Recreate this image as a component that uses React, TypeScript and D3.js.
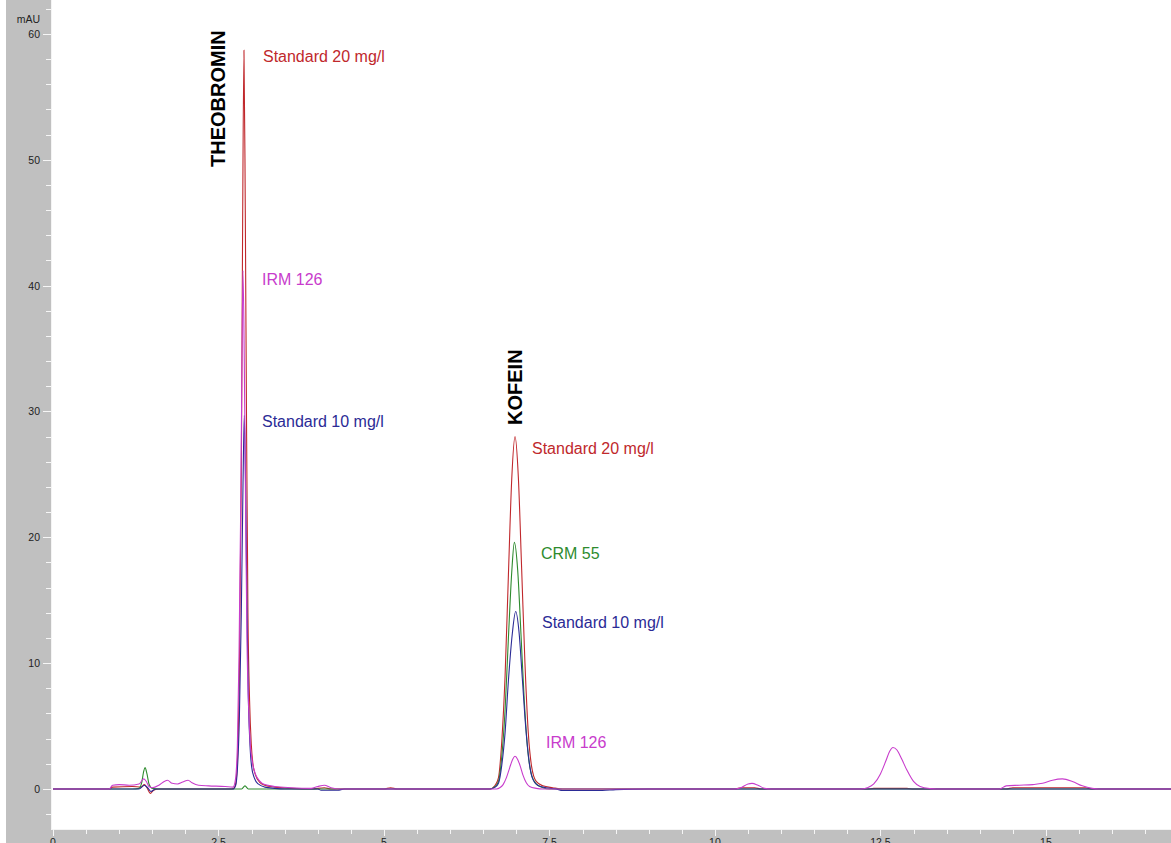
import React from "react";
import * as d3 from "d3";

// Retention time (min) / absorbance (mAU) traces of the four runs
const std20: [number, number][] = [
  [0, 0], [0.85, 0], [0.9, 0.15], [1.2, 0.2], [1.33, 0.15], [1.38, 0.35], [1.42, 0.1], [1.47, -0.35], [1.52, -0.1], [1.6, 0],
  [2.7, 0], [2.74, 0.1], [2.765, 0.6], [2.79, 2.8], [2.815, 9], [2.845, 25], [2.865, 45], [2.885, 58.7], [2.905, 46], [2.925, 28],
  [2.945, 14], [2.97, 7], [2.995, 3.6], [3.02, 2.0], [3.06, 1.1], [3.12, 0.55], [3.2, 0.3], [3.35, 0.15], [3.6, 0.05], [3.9, 0],
  [4.1, 0.1], [4.2, 0], [5.0, 0], [5.1, 0.1], [5.2, 0], [6.6, 0], [6.68, 0.3], [6.73, 0.9], [6.78, 3.8], [6.83, 9], [6.88, 17],
  [6.93, 24.6], [6.98, 28], [7.03, 24.8], [7.08, 17.5], [7.13, 10], [7.18, 4.5], [7.23, 1.8], [7.3, 0.6], [7.4, 0.25], [7.55, 0.1],
  [7.7, 0], [10.3, 0], [10.4, 0.1], [10.6, 0.1], [10.7, 0], [12.3, 0], [12.4, 0.05], [12.9, 0.05], [13.0, 0], [14.4, 0],
  [14.5, 0.1], [15.6, 0.1], [15.7, 0], [16.9, 0],
];

const crm55: [number, number][] = [
  [0, 0], [1.2, 0], [1.3, 0.05], [1.34, 0.5], [1.37, 1.4], [1.39, 1.7], [1.42, 1.2], [1.45, 0.4], [1.5, 0.05], [1.6, 0],
  [2.85, 0], [2.9, 0.25], [2.95, 0], [6.6, 0], [6.68, 0.2], [6.73, 0.6], [6.78, 2.6], [6.83, 6.3], [6.88, 12], [6.93, 17.2],
  [6.97, 19.6], [7.02, 17.4], [7.07, 12.3], [7.12, 7], [7.17, 3.2], [7.22, 1.3], [7.3, 0.4], [7.4, 0.1], [7.5, 0], [16.9, 0],
];

const std10: [number, number][] = [
  [0, 0], [1.3, 0], [1.38, 0.3], [1.43, 0.1], [1.48, -0.2], [1.55, 0], [2.72, 0], [2.76, 0.3], [2.785, 1.5], [2.815, 5.5],
  [2.845, 14], [2.87, 24], [2.89, 29.7], [2.91, 24], [2.93, 14.5], [2.95, 7.5], [2.975, 3.6], [3.0, 1.8], [3.04, 0.9], [3.1, 0.4],
  [3.2, 0.15], [3.35, 0.05], [3.5, 0], [4.0, 0], [4.05, -0.1], [4.3, -0.1], [4.4, 0], [6.6, 0], [6.68, 0.15], [6.73, 0.45],
  [6.78, 1.9], [6.83, 4.5], [6.88, 8.6], [6.94, 12.4], [6.99, 14.1], [7.04, 12.5], [7.09, 8.8], [7.14, 5], [7.19, 2.3],
  [7.24, 0.9], [7.32, 0.3], [7.45, 0.1], [7.6, 0], [7.7, -0.12], [8.3, -0.12], [8.5, -0.05], [9.0, 0], [16.9, 0],
];

const irm126: [number, number][] = [
  [0, 0], [0.85, 0], [0.9, 0.3], [1.0, 0.35], [1.15, 0.3], [1.3, 0.4], [1.37, 0.8], [1.41, 0.6], [1.45, 0.2], [1.5, 0.1],
  [1.6, 0.3], [1.68, 0.6], [1.73, 0.7], [1.8, 0.45], [1.88, 0.4], [1.96, 0.55], [2.04, 0.7], [2.1, 0.5], [2.2, 0.3],
  [2.35, 0.25], [2.6, 0.2], [2.72, 0.15], [2.755, 0.7], [2.785, 3.4], [2.81, 10.5], [2.835, 22], [2.855, 34], [2.87, 41.2],
  [2.89, 34], [2.91, 22], [2.93, 12], [2.955, 6.5], [2.98, 3.6], [3.01, 2.2], [3.05, 1.3], [3.12, 0.65], [3.2, 0.35], [3.35, 0.2],
  [3.6, 0.1], [3.9, 0.05], [4.0, 0.2], [4.1, 0.3], [4.2, 0.1], [4.35, 0], [6.7, 0], [6.75, 0.1], [6.8, 0.35], [6.85, 0.9],
  [6.9, 1.7], [6.94, 2.3], [6.98, 2.6], [7.02, 2.35], [7.06, 1.8], [7.1, 1.1], [7.15, 0.5], [7.2, 0.2], [7.3, 0.05], [7.4, 0],
  [10.3, 0], [10.4, 0.12], [10.5, 0.4], [10.56, 0.45], [10.65, 0.3], [10.75, 0.05], [10.85, 0], [12.2, 0], [12.3, 0.1],
  [12.4, 0.4], [12.5, 1.2], [12.58, 2.2], [12.64, 3.0], [12.69, 3.3], [12.75, 3.1], [12.82, 2.4], [12.9, 1.5], [13.0, 0.6],
  [13.1, 0.2], [13.25, 0.03], [13.35, 0], [14.3, 0], [14.4, 0.25], [14.6, 0.3], [14.8, 0.35], [14.95, 0.45], [15.1, 0.7],
  [15.25, 0.8], [15.4, 0.6], [15.55, 0.25], [15.7, 0.05], [15.8, 0], [16.9, 0],
];

const xTickLabels = [0, 2.5, 5, 7.5, 10, 12.5, 15];
const yTickLabels = [0, 10, 20, 30, 40, 50, 60];

const RED = "#c0282c";
const GREEN = "#2e8b2e";
const BLUE = "#2b2b96";
const MAGENTA = "#c83ccc";

const traces = [
  { name: "Standard 20 mg/l", data: std20, color: RED },
  { name: "CRM 55", data: crm55, color: GREEN },
  { name: "Standard 10 mg/l", data: std10, color: BLUE },
  { name: "IRM 126", data: irm126, color: MAGENTA },
];

// Annotation anchors in data space (min, mAU)
const peakLabels = [
  { text: "Standard 20 mg/l", t: 3.172, v: 57.8, color: RED },
  { text: "IRM 126", t: 3.157, v: 40.05, color: MAGENTA },
  { text: "Standard 10 mg/l", t: 3.157, v: 28.77, color: BLUE },
  { text: "Standard 20 mg/l", t: 7.236, v: 26.62, color: RED },
  { text: "CRM 55", t: 7.372, v: 18.28, color: GREEN },
  { text: "Standard 10 mg/l", t: 7.387, v: 12.8, color: BLUE },
  { text: "IRM 126", t: 7.447, v: 3.26, color: MAGENTA },
];
const compoundLabels = [
  { text: "THEOBROMIN", t: 2.598, v: 49.43 },
  { text: "KOFEIN", t: 7.085, v: 28.93 },
];

const W = 1171;
const H = 843;
const PLOT_BOTTOM = 829;
const AXIS_X = 51;

export default function App() {
  const x = d3.scaleLinear().domain([0, 16.89]).range([53, 1171]);
  const y = d3.scaleLinear().domain([-3.1, 62.7]).range([828, 0]);
  const line = d3
    .line<[number, number]>()
    .x((d) => x(d[0]))
    .y((d) => y(d[1]))
    .curve(d3.curveMonotoneX);

  const xMinor = d3.range(0, 16.9, 0.5);
  const yMinor = d3.range(-2, 62.1, 2);
  const font = "'Liberation Sans', Arial, sans-serif";

  return (
    <svg
      width={W}
      height={H}
      style={{ position: "absolute", left: 0, top: 0, display: "block", background: "#fff" }}
      fontFamily={font}
    >
      <defs>
        <clipPath id="plot">
          <rect x={AXIS_X + 1} y={0} width={W - AXIS_X} height={PLOT_BOTTOM} />
        </clipPath>
      </defs>
      {/* frame panels */}
      <rect x={6} y={0} width={AXIS_X - 6} height={H} fill="#c0c0c0" />
      <rect x={6} y={PLOT_BOTTOM} width={W - 6} height={H - PLOT_BOTTOM} fill="#c0c0c0" />
      <line x1={AXIS_X + 0.5} x2={AXIS_X + 0.5} y1={0} y2={PLOT_BOTTOM} stroke="#f4f4f4" />
      <line x1={AXIS_X} x2={W} y1={PLOT_BOTTOM + 0.5} y2={PLOT_BOTTOM + 0.5} stroke="#f4f4f4" />

      {/* y axis */}
      {yMinor.map((v) => {
        const major = v % 10 === 0;
        const yy = Math.round(y(v)) + 0.5;
        return (
          <line key={"ym" + v} x1={major ? 43 : 46} x2={AXIS_X} y1={yy} y2={yy} stroke="#f6f6f6" />
        );
      })}
      {yTickLabels.map((v) => (
        <text key={"yl" + v} x={40} y={y(v) + 4} fontSize={10.5} textAnchor="end" fill="#222">
          {v}
        </text>
      ))}
      <text x={40} y={23} fontSize={10.5} textAnchor="end" fill="#222">
        mAU
      </text>

      {/* x axis */}
      {xMinor.map((v) => {
        const major = Math.abs(v / 2.5 - Math.round(v / 2.5)) < 1e-6;
        const xx = Math.round(x(v)) + 0.5;
        return (
          <line key={"xm" + v} x1={xx} x2={xx} y1={PLOT_BOTTOM} y2={PLOT_BOTTOM + (major ? 7 : 5)} stroke="#f6f6f6" />
        );
      })}
      {xTickLabels.map((v) => (
        <text key={"xl" + v} x={x(v)} y={846} fontSize={10.5} textAnchor="middle" fill="#222">
          {v}
        </text>
      ))}

      {/* traces */}
      <g clipPath="url(#plot)">
        {traces.map((tr) => (
          <path key={tr.name} d={line(tr.data) || ""} fill="none" stroke={tr.color} strokeWidth={1.1} />
        ))}
      </g>

      {/* peak annotations */}
      {peakLabels.map((l, i) => (
        <text key={"pl" + i} x={x(l.t)} y={y(l.v)} fontSize={16} fill={l.color}>
          {l.text}
        </text>
      ))}
      {compoundLabels.map((l) => (
        <text
          key={l.text}
          transform={`translate(${x(l.t)},${y(l.v)}) rotate(-90)`}
          fontSize={20}
          fontWeight="bold"
          fill="#000"
        >
          {l.text}
        </text>
      ))}
    </svg>
  );
}
